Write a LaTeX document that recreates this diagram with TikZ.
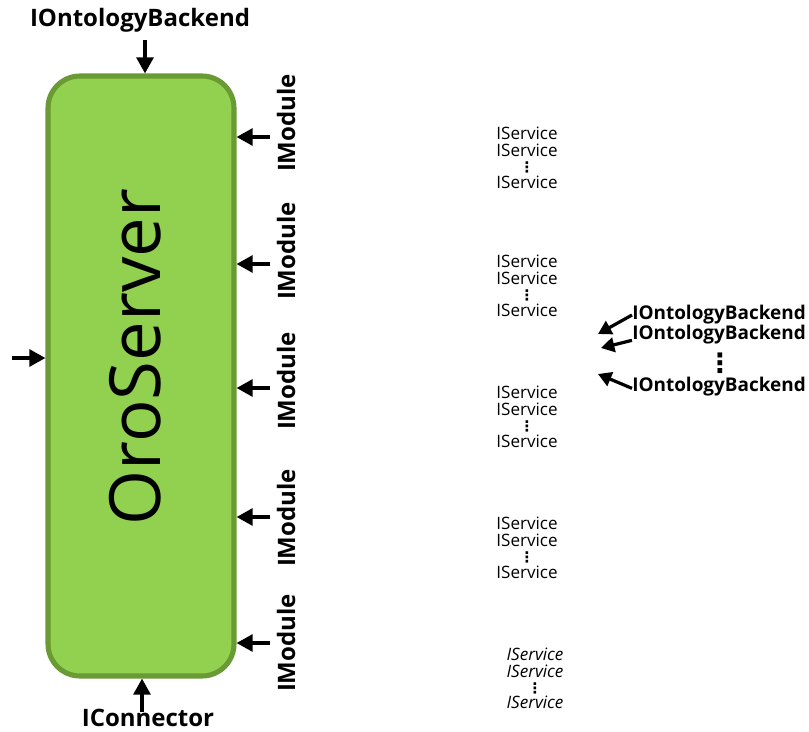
\documentclass[tikz,border=0pt]{standalone}
\usepackage{fontspec}
\setmainfont{Open Sans}
\newfontfamily\symfont{DejaVu Sans}
\usetikzlibrary{arrows.meta}
\definecolor{srvfill}{HTML}{92D050}
\definecolor{srvline}{HTML}{6A9A34}
\tikzset{
  arr/.style={-{Triangle[length=12pt,width=12.5pt]},line width=2.6pt},
  sarr/.style={-{Triangle[length=10pt,width=11pt]},line width=2.4pt},
  iface/.style={font=\bfseries\fontsize{18}{20}\selectfont,inner sep=0pt},
  ifsmall/.style={font=\bfseries\fontsize{14.2}{16}\selectfont,inner sep=0pt},
  svc/.style={font=\fontsize{12.8}{14}\selectfont,inner sep=0pt},
  isvc/.style={font=\itshape\fontsize{12.8}{14}\selectfont,inner sep=0pt},
  dots/.style={font=\symfont\bfseries\fontsize{11}{11}\selectfont,inner sep=0pt}
}
\begin{document}
\begin{tikzpicture}[x=0.75pt,y=-0.75pt,line join=round]
  \useasboundingbox (0,0) rectangle (809,731);
  % server box
  \node[draw=srvline,fill=srvfill,line width=3.8pt,rounded corners=24pt,
        minimum width=186*0.75pt,minimum height=600*0.75pt] (srv) at (141,376) {};
  \node[rotate=90,font=\fontsize{53}{53}\selectfont,inner sep=0pt] (name) at (135,357) {OroServer};
  % top, bottom and left interfaces
  \node[iface] (ontop) at (140,20) {IOntologyBackend};
  \coordinate (topin) at (145,40);
  \draw[arr] (topin) -- (topin |- srv.north);
  \node[iface] (conn) at (148,718) {IConnector};
  \coordinate (botin) at (142,712);
  \draw[arr] (botin) -- (botin |- srv.south);
  \coordinate (leftin) at (12,358);
  \draw[arr] (leftin) -- (leftin -| srv.west);
  % modules
  \foreach \i/\ya/\yl in {1/137/123,2/264/251,3/388/381,4/517/518,5/643/643}{
    \node[iface,rotate=90] (mod\i) at (286,\yl) {IModule};
    \coordinate (modin\i) at (270,\ya);
    \draw[arr] (modin\i) -- (modin\i -| srv.east);
  }
  % services
  \foreach \i/\y in {1/133,2/261,3/392,4/523}{
    \node[svc] (svc\i a) at (527,\y) {IService};
    \node[svc] (svc\i b) at (527,\y+17) {IService};
    \node[dots] (svc\i d) at (527,\y+34) {⋮};
    \node[svc] (svc\i c) at (527,\y+49) {IService};
  }
  \node[isvc] (svc5a) at (535,654) {IService};
  \node[isvc] (svc5b) at (535,671) {IService};
  \node[dots] (svc5d) at (535,688) {⋮};
  \node[isvc] (svc5c) at (535,702) {IService};
  % backends
  \node[ifsmall,anchor=west] (ob1) at (632,315) {IOntologyBackend};
  \node[ifsmall,anchor=west] (ob2) at (632,335) {IOntologyBackend};
  \node[font=\symfont\bfseries\fontsize{20}{20}\selectfont,inner sep=0pt] (obd) at (720,363) {⋮};
  \node[ifsmall,anchor=west] (ob3) at (632,387) {IOntologyBackend};
  \coordinate (obh1) at (598,334);
  \coordinate (obh2) at (601,348);
  \coordinate (obh3) at (598,374);
  \draw[sarr] (ob1.west) -- (obh1);
  \draw[sarr] ([yshift=-4pt]ob2.west) -- (obh2);
  \draw[sarr] ([yshift=-1pt]ob3.west) -- (obh3);
\end{tikzpicture}
\end{document}
